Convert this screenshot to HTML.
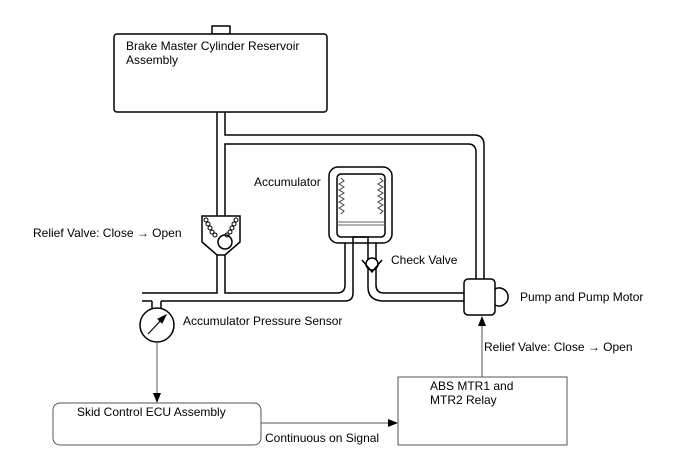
<!DOCTYPE html><html><head><style>body{margin:0;background:#fff}svg{display:block}text{font-family:"Liberation Sans",Arial,sans-serif;font-size:12px;fill:#000}</style></head><body>
<svg width="688" height="463" viewBox="0 0 688 463">
<defs><marker id="a" markerWidth="10" markerHeight="10" refX="9" refY="4" orient="auto" markerUnits="userSpaceOnUse"><path d="M0,0 L10,4 L0,8z" fill="#000"/></marker></defs>
<g fill="none" stroke="#000" stroke-width="1.5">
<rect x="212" y="26" width="18" height="8" fill="#fff"/>
<rect x="114" y="34" width="213" height="78" rx="3" fill="#fff"/>
<path d="M217,112 V216"/>
<path d="M225,112 V135 H474 Q484,135 484,145 V280"/>
<path d="M225,216 V144 H468 Q476,144 476,152 V280"/>
<path d="M202,216 H240 V242 L225,255 L217,255 L202,242 Z" fill="#fff"/>
<path d="M217,255 V293 H142"/>
<path d="M225,255 V293 H337 Q345,293 345,285 V243"/>
<path d="M142,301 H152 M161,301 H345 Q353,301 353,293 V243"/>
<path d="M152,301 V308 M161,301 V308"/>
<circle cx="157" cy="325" r="17" fill="#fff"/>
<rect x="329" y="167" width="63" height="76" rx="9" fill="#fff"/>
<rect x="337" y="174" width="48" height="63" rx="4"/>
<path d="M353,243 V237 H368 V243"/>
<path d="M368,243 V287 Q368,301 384,301 H464"/>
<path d="M376,243 V285 Q376,293 384,293 H464"/>
<rect x="464" y="279" width="31" height="36" rx="4" fill="#fff"/>
<path d="M495,289 A9,9 0 1 1 495,305"/>
<circle cx="372" cy="264" r="6" fill="#fff"/>
<path d="M362,260 L372,272 L382,260"/>
</g>
<g fill="none" stroke="#000" stroke-width="1">
<path d="M337,222 H385 M337,225 H385" stroke="#666"/>
<path d="M341,178 l3,3 l-5,3 l5,3 l-5,3 l5,3 l-5,3 l5,3 l-5,3 l5,3 l-5,3 l5,3 l-3,3" stroke="#444"/>
<path d="M380,178 l3,3 l-5,3 l5,3 l-5,3 l5,3 l-5,3 l5,3 l-5,3 l5,3 l-5,3 l5,3 l-3,3" stroke="#444"/>
<circle cx="225" cy="242" r="7" stroke-width="1.5" fill="#fff"/>
<circle cx="206" cy="220" r="2"/><circle cx="208" cy="224" r="2"/><circle cx="210" cy="228" r="2"/><circle cx="212" cy="232" r="2"/><circle cx="215" cy="235" r="2"/>
<circle cx="236" cy="220" r="2"/><circle cx="234" cy="224" r="2"/><circle cx="232" cy="228" r="2"/><circle cx="230" cy="232" r="2"/><circle cx="227" cy="235" r="2"/>
<path d="M148,334 L165,316" stroke-width="1.2"/>
<path d="M166,315 L158,319 L162,323z" fill="#000"/>
<path d="M157,342 V402" stroke="#555" marker-end="url(#a)"/>
<path d="M261,423 H397" stroke="#555" marker-end="url(#a)"/>
<path d="M482,377 V317" stroke="#555" marker-end="url(#a)"/>
<rect x="53" y="403" width="208" height="42" rx="7" stroke="#555"/>
<rect x="398" y="377" width="169" height="68" stroke="#555"/>
</g>
<text x="126" y="50">Brake Master Cylinder Reservoir</text>
<text x="126" y="64">Assembly</text>
<text x="254" y="186">Accumulator</text>
<text x="33" y="237">Relief Valve: Close → Open</text>
<text x="391" y="264">Check Valve</text>
<text x="520" y="301">Pump and Pump Motor</text>
<text x="183" y="325">Accumulator Pressure Sensor</text>
<text x="484" y="351">Relief Valve: Close → Open</text>
<text x="430" y="390">ABS MTR1 and</text>
<text x="430" y="404">MTR2 Relay</text>
<text x="77" y="416">Skid Control ECU Assembly</text>
<text x="265" y="442">Continuous on Signal</text>
</svg></body></html>
